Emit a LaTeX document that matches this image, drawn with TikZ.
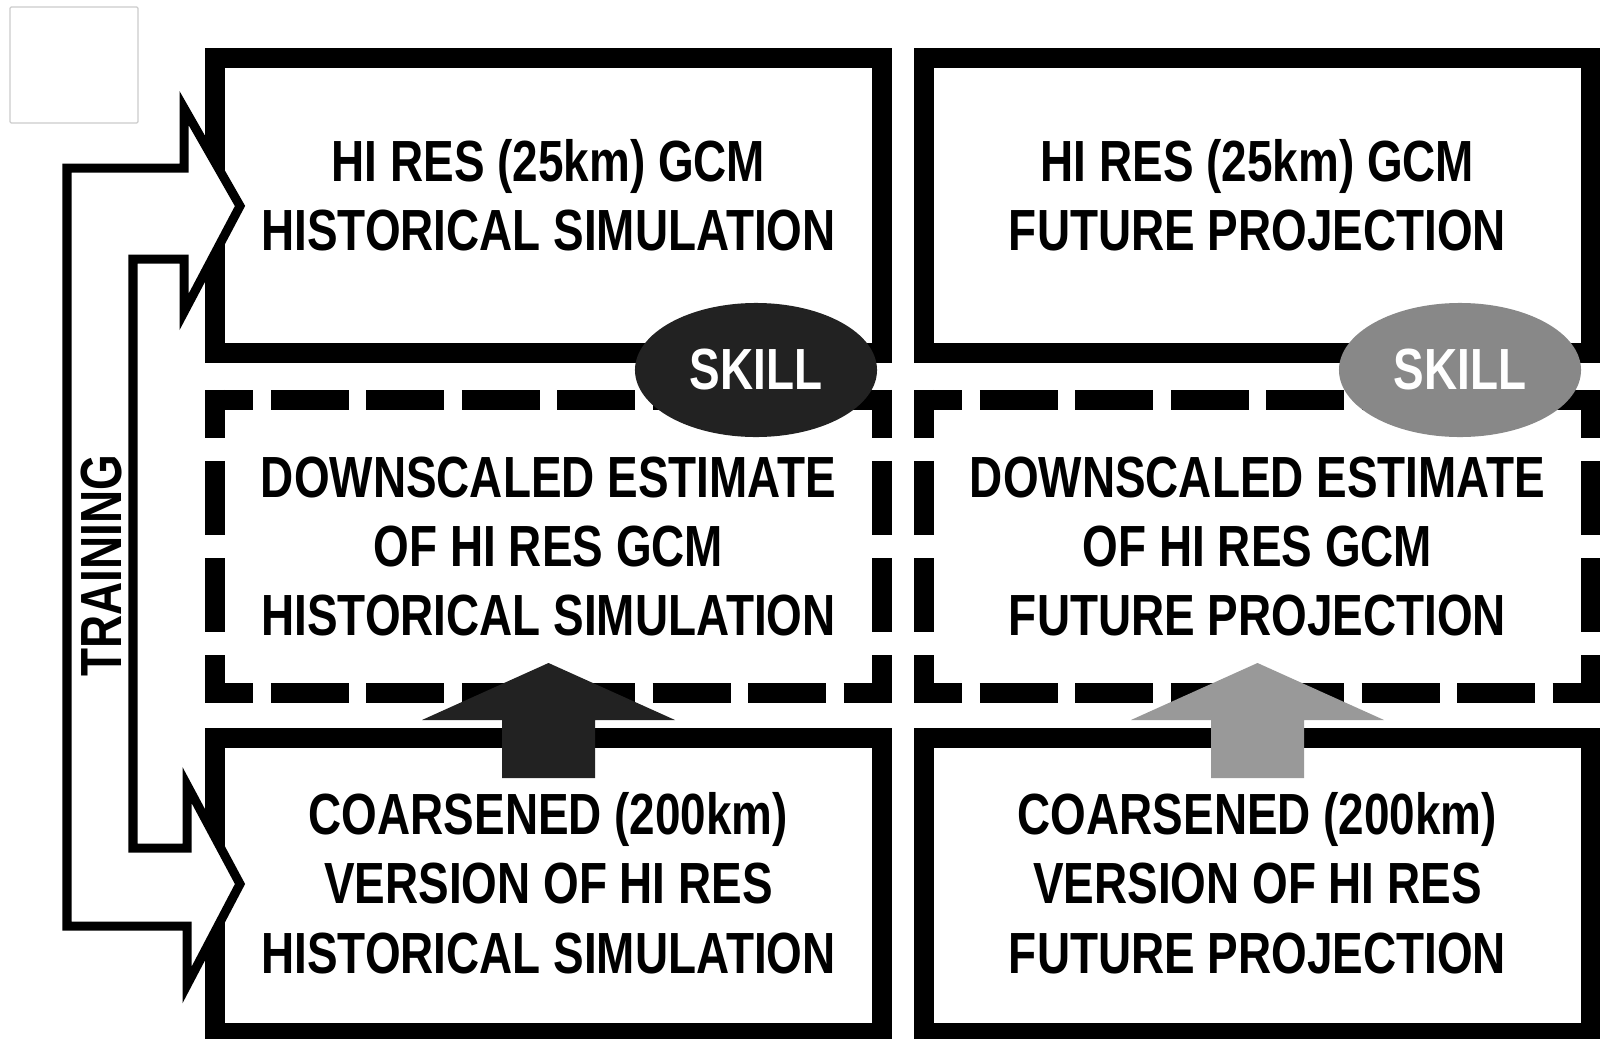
\documentclass[tikz,border=0pt]{standalone}
\usepackage{fontspec}
\usetikzlibrary{shapes.geometric}
\newfontfamily\boxfont[FakeStretch=0.79]{Liberation Sans}
\definecolor{darkfill}{HTML}{222222}
\definecolor{greyfill}{HTML}{888888}
\definecolor{greyarrow}{HTML}{999999}
\definecolor{thinbox}{HTML}{CCCCCC}
\tikzset{
  solidbox/.style={draw=black, line width=0.5cm, minimum width=16.65cm, minimum height=7.375cm, inner sep=0pt, outer sep=0pt},
  dashbox/.style={minimum width=16.65cm, minimum height=7.325cm, inner sep=0pt, outer sep=0pt},
  txt/.style={align=center, inner sep=0pt, font=\boxfont\bfseries\fontsize{41.3}{49.4}\selectfont},
  hdash/.style={draw=black, line width=0.5cm, line cap=butt, dash pattern=on 55.48pt off 12.40pt, dash phase=21.34pt},
  vdash/.style={draw=black, line width=0.5cm, line cap=butt, dash pattern=on 52.64pt off 16.36pt, dash phase=18.49pt},
  skill/.style={ellipse, minimum width=6.05cm, minimum height=3.35cm, inner sep=0pt, text=white, font=\boxfont\bfseries\fontsize{41.3}{49.4}\selectfont},
  trainarrow/.style={draw=black, fill=white, line width=0.225cm, line join=miter},
}
\begin{document}
\begin{tikzpicture}[x=0.025cm, y=-0.025cm]
\useasboundingbox (0,0) rectangle (1600,1039);
\clip (0,0) rectangle (1600,1039);
\fill[white] (0,0) rectangle (1600,1039);

% small empty frame top-left
\draw[thinbox, line width=0.03cm, rounded corners=0.03cm] (10,7) rectangle (138,123);

% solid boxes
\node[solidbox] (b1) at (548.5,205.5) {};
\node[solidbox] (b2) at (1257.5,205.5) {};
\node[solidbox] (b5) at (548.5,885.5) {};
\node[solidbox] (b6) at (1257.5,885.5) {};

% training arrow
\draw[trainarrow] (67,168) -- (184,168) -- (184,108) -- (240,206) -- (184,312) -- (184,259)
  -- (133,259) -- (133,848) -- (187,848) -- (187,785) -- (240,884) -- (187,985) -- (187,926)
  -- (67,926) -- cycle;
\node[txt, rotate=90] (train) at (102,566) {TRAINING};

% dashed boxes
\node[dashbox] (b3) at (548.5,546.5) {};
\node[dashbox] (b4) at (1257.5,546.5) {};
\foreach \b in {b3,b4}{
  \draw[hdash] ([xshift=-0.25cm]\b.north west) -- ([xshift=0.25cm]\b.north east);
  \draw[hdash] ([xshift=-0.25cm]\b.south west) -- ([xshift=0.25cm]\b.south east);
  \draw[vdash] ([yshift=0.25cm]\b.north west) -- ([yshift=-0.25cm]\b.south west);
  \draw[vdash] ([yshift=0.25cm]\b.north east) -- ([yshift=-0.25cm]\b.south east);
}

% texts
\node[txt] (t1) at ([yshift=0.25cm]b1.center) {HI RES (25km) GCM\\HISTORICAL SIMULATION};
\node[txt] (t2) at ([yshift=0.25cm]b2.center) {HI RES (25km) GCM\\FUTURE PROJECTION};
\node[txt] (t3) at (b3.center) {DOWNSCALED ESTIMATE\\OF HI RES GCM\\HISTORICAL SIMULATION};
\node[txt] (t4) at (b4.center) {DOWNSCALED ESTIMATE\\OF HI RES GCM\\FUTURE PROJECTION};
\node[txt] (t5) at ([yshift=0.06cm]b5.center) {COARSENED (200km)\\VERSION OF HI RES\\HISTORICAL SIMULATION};
\node[txt] (t6) at ([yshift=0.06cm]b6.center) {COARSENED (200km)\\VERSION OF HI RES\\FUTURE PROJECTION};

% skill ellipses
\node[skill, fill=darkfill] (s1) at (756,370) {SKILL};
\node[skill, fill=greyfill] (s2) at (1460,370) {SKILL};

% up arrows
\fill[darkfill] (502,778) -- (502,720) -- (422,720) -- (548.5,663) -- (675,720) -- (595,720) -- (595,778) -- cycle;
\fill[greyarrow] (1211,778) -- (1211,720) -- (1131,720) -- (1257.5,663) -- (1384,720) -- (1304,720) -- (1304,778) -- cycle;
\end{tikzpicture}
\end{document}
